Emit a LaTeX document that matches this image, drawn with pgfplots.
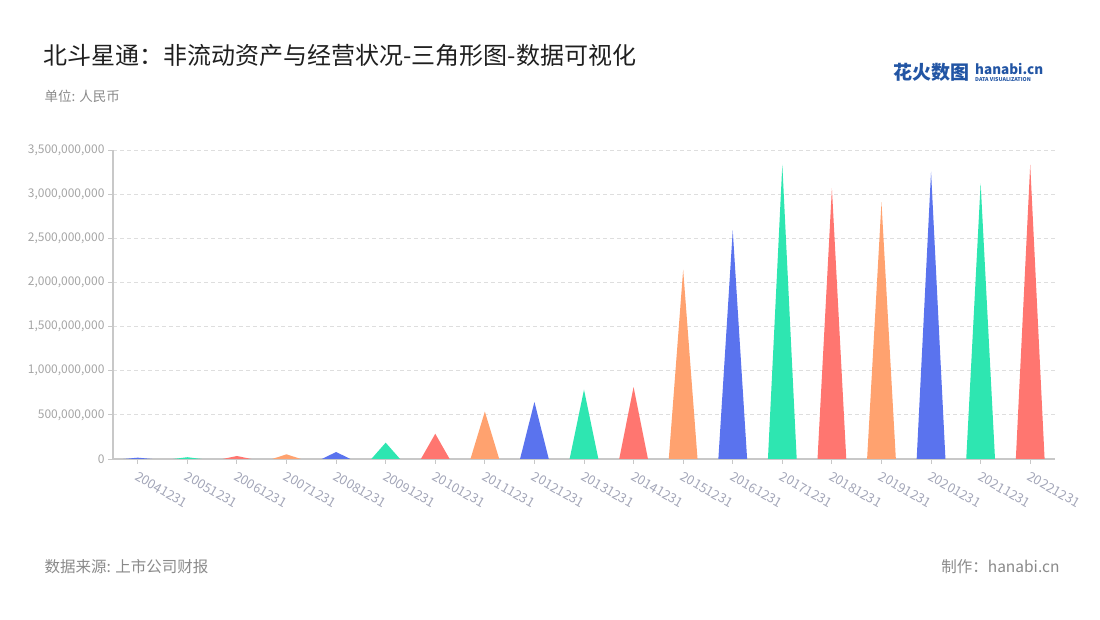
\documentclass[border=0pt]{standalone}
\usepackage{fontspec}
\setmainfont{Noto Sans CJK SC}
\usepackage{pgfplots}
\pgfplotsset{compat=1.18}
\definecolor{cB}{HTML}{5A73EE}
\definecolor{cG}{HTML}{2EE6B1}
\definecolor{cR}{HTML}{FF7670}
\definecolor{cO}{HTML}{FFA26F}
\definecolor{axgray}{HTML}{C8C8C8}
\definecolor{gridgray}{HTML}{DEDEDE}
\definecolor{ylab}{HTML}{A5A5A5}
\definecolor{xlab}{HTML}{A3A6B8}
\definecolor{foot}{HTML}{8A8A8A}
\definecolor{logoblue}{HTML}{2255A4}
\begin{document}
\begin{tikzpicture}[x=1pt,y=1pt]
\path[use as bounding box] (0pt,0pt) rectangle (1100pt,620pt);
\node[anchor=west, text=black!88, font=\fontsize{24}{24}\selectfont] at (40pt,565pt) {北斗星通：非流动资产与经营状况-三角形图-数据可视化};
\node[anchor=west, text=foot, font=\fontsize{13.5}{13.5}\selectfont] at (41pt,524pt) {单位: 人民币};
\node[anchor=west, text=logoblue, font=\fontsize{19}{19}\selectfont\bfseries] at (890pt,548pt) {花火数图};
\node[anchor=west, text=logoblue, font=\fontsize{13.5}{13.5}\selectfont\bfseries, inner sep=0pt] at (975pt,551pt) {hanabi.cn};
\node[anchor=west, text=logoblue, font=\fontsize{5.3}{5.3}\selectfont\bfseries, inner sep=0pt] at (975pt,540pt) {DATA VISUALIZATION};
\node[anchor=west, text=foot, font=\fontsize{15.5}{15.5}\selectfont] at (41pt,53pt) {数据来源: 上市公司财报};
\node[anchor=east, text=foot, font=\fontsize{15.5}{15.5}\selectfont] at (1063pt,53pt) {制作：hanabi.cn};
\begin{axis}[
  at={(113pt,161pt)}, anchor=south west, scale only axis,
  width=942pt, height=309pt,
  xmin=-0.5, xmax=18.5, ymin=0, ymax=3500000000,
  axis x line*=bottom, axis y line*=left,
  axis line style={draw=axgray, line width=1.3pt, -},
  xtick={0,...,18},
  xticklabels={20041231,20051231,20061231,20071231,20081231,20091231,20101231,20111231,20121231,20131231,20141231,20151231,20161231,20171231,20181231,20191231,20201231,20211231,20221231},
  ytick={0,500000000,1000000000,1500000000,2000000000,2500000000,3000000000,3500000000},
  scaled y ticks=false,
  y tick label style={/pgf/number format/fixed, /pgf/number format/precision=0, /pgf/number format/1000 sep={,}, /pgf/number format/assume math mode=true, font=\fontsize{12}{12}\selectfont, text=ylab},
  x tick label style={rotate=-30, anchor=north west, font=\fontsize{13}{13}\selectfont, text=xlab, xshift=1pt, yshift=-2pt},
  tick align=outside, major tick length=5pt,
  tick style={draw=axgray, line width=0.9pt},
  ymajorgrids, grid style={dash pattern=on 4pt off 3pt, draw=gridgray, line width=0.8pt},
  clip=false,
]
\addplot[fill=cB, draw=none] coordinates {(-0.29,0) (0,15000000) (0.29,0)} \closedcycle;
\addplot[fill=cG, draw=none] coordinates {(0.71,0) (1,20000000) (1.29,0)} \closedcycle;
\addplot[fill=cR, draw=none] coordinates {(1.71,0) (2,34000000) (2.29,0)} \closedcycle;
\addplot[fill=cO, draw=none] coordinates {(2.71,0) (3,53000000) (3.29,0)} \closedcycle;
\addplot[fill=cB, draw=none] coordinates {(3.71,0) (4,79000000) (4.29,0)} \closedcycle;
\addplot[fill=cG, draw=none] coordinates {(4.71,0) (5,185000000) (5.29,0)} \closedcycle;
\addplot[fill=cR, draw=none] coordinates {(5.71,0) (6,286000000) (6.29,0)} \closedcycle;
\addplot[fill=cO, draw=none] coordinates {(6.71,0) (7,537000000) (7.29,0)} \closedcycle;
\addplot[fill=cB, draw=none] coordinates {(7.71,0) (8,646000000) (8.29,0)} \closedcycle;
\addplot[fill=cG, draw=none] coordinates {(8.71,0) (9,785000000) (9.29,0)} \closedcycle;
\addplot[fill=cR, draw=none] coordinates {(9.71,0) (10,815000000) (10.29,0)} \closedcycle;
\addplot[fill=cO, draw=none] coordinates {(10.71,0) (11,2145000000) (11.29,0)} \closedcycle;
\addplot[fill=cB, draw=none] coordinates {(11.71,0) (12,2589000000) (12.29,0)} \closedcycle;
\addplot[fill=cG, draw=none] coordinates {(12.71,0) (13,3334000000) (13.29,0)} \closedcycle;
\addplot[fill=cR, draw=none] coordinates {(13.71,0) (14,3067000000) (14.29,0)} \closedcycle;
\addplot[fill=cO, draw=none] coordinates {(14.71,0) (15,2909000000) (15.29,0)} \closedcycle;
\addplot[fill=cB, draw=none] coordinates {(15.71,0) (16,3255000000) (16.29,0)} \closedcycle;
\addplot[fill=cG, draw=none] coordinates {(16.71,0) (17,3123000000) (17.29,0)} \closedcycle;
\addplot[fill=cR, draw=none] coordinates {(17.71,0) (18,3334000000) (18.29,0)} \closedcycle;
\end{axis}
\end{tikzpicture}
\end{document}
